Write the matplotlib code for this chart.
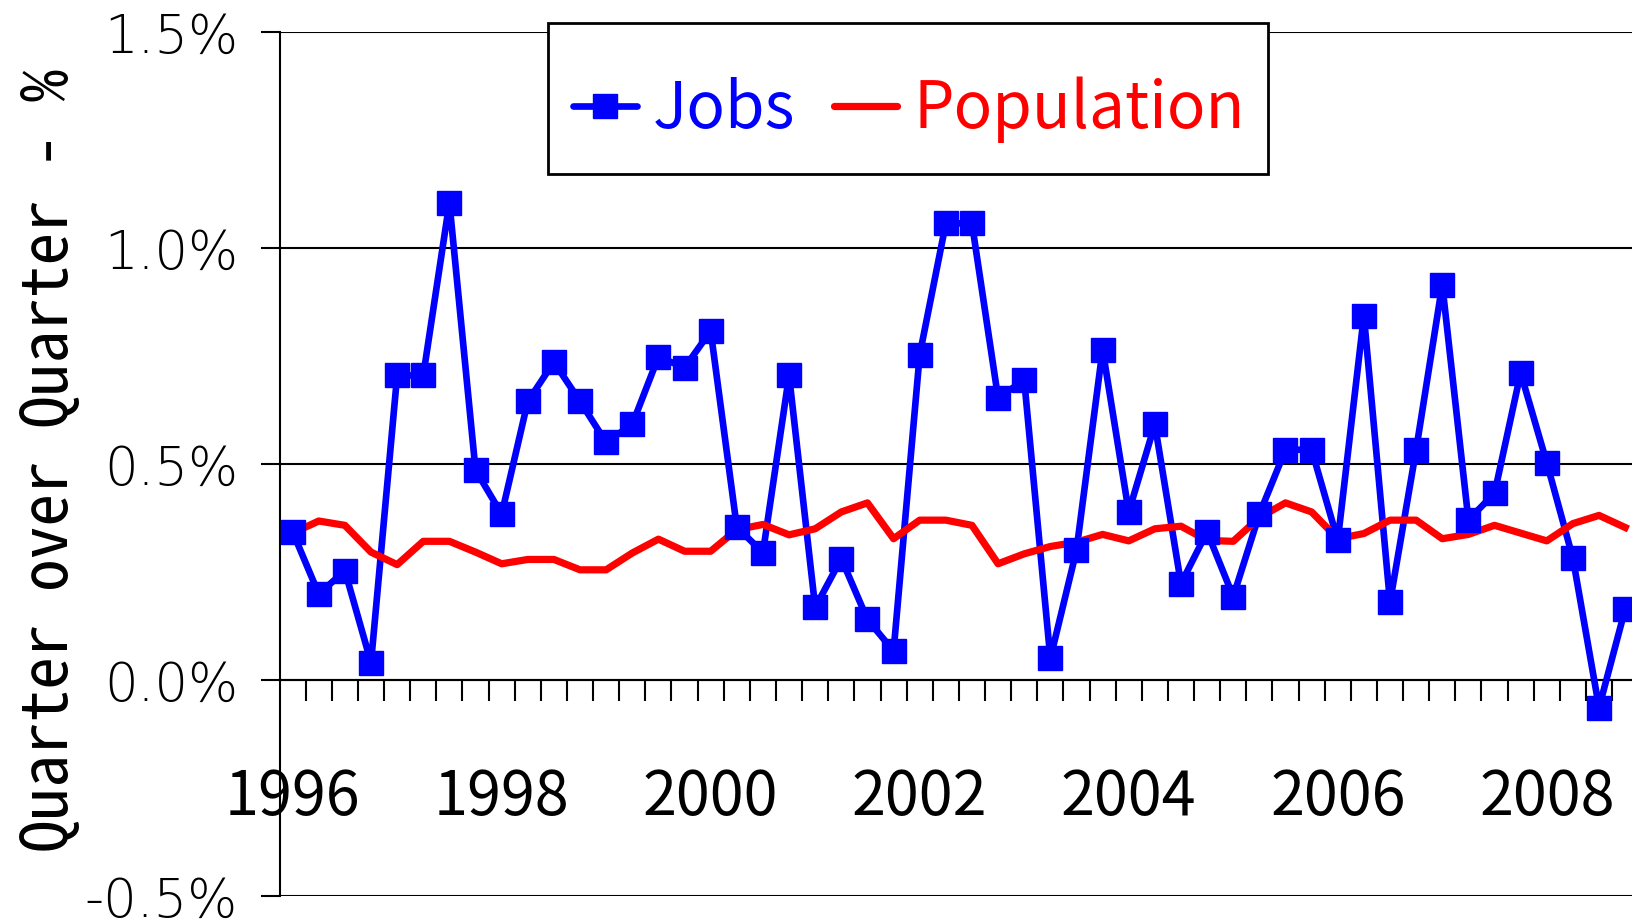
import numpy as np
import matplotlib
matplotlib.use("Agg")
import matplotlib.pyplot as plt
from matplotlib.lines import Line2D
from matplotlib.patches import Rectangle

# quarterly change, % (1996 Q1 .. 2008 Q4)
jobs = [0.343, 0.199, 0.253, 0.040, 0.705, 0.705, 1.105, 0.486, 0.384, 0.645,
        0.736, 0.645, 0.550, 0.592, 0.748, 0.723, 0.808, 0.354, 0.295, 0.705,
        0.168, 0.281, 0.140, 0.067, 0.753, 1.057, 1.057, 0.653, 0.694, 0.050,
        0.300, 0.765, 0.389, 0.592, 0.223, 0.343, 0.193, 0.384, 0.533, 0.533,
        0.323, 0.843, 0.180, 0.533, 0.915, 0.371, 0.432, 0.711, 0.503, 0.282,
        -0.064, 0.164]
population = [0.340, 0.368, 0.358, 0.296, 0.267, 0.321, 0.321, 0.296, 0.269, 0.279,
              0.279, 0.255, 0.255, 0.294, 0.326, 0.298, 0.298, 0.348, 0.360, 0.336,
              0.350, 0.389, 0.410, 0.327, 0.370, 0.370, 0.358, 0.269, 0.292, 0.309,
              0.319, 0.337, 0.322, 0.350, 0.356, 0.323, 0.321, 0.376, 0.410, 0.389,
              0.327, 0.339, 0.370, 0.370, 0.327, 0.337, 0.358, 0.340, 0.322, 0.362,
              0.381, 0.353]
anos = ["1996", "1998", "2000", "2002", "2004", "2006", "2008"]
y_ticks = [-0.5, 0.0, 0.5, 1.0, 1.5]

plt.rcParams['font.family'] = ['Noto Sans CJK JP', 'DejaVu Sans']
fonte_mono = ['Noto Sans Mono CJK JP', 'DejaVu Sans Mono']

azul = "#0000FF"
vermelho = "#FF0000"

W, H = 1633, 923
fig = plt.figure(figsize=(W / 100, H / 100), dpi=100)
ax = fig.add_axes([0.1712, 0.0293, 0.832, 0.936])

x = np.arange(len(jobs))

ax.plot(x, jobs, color=azul, linewidth=4.8, zorder=3)
ax.plot(x, population, color=vermelho, linewidth=5.2, zorder=4)
ax.plot(x, jobs, linestyle="none", marker="s", markersize=17.5,
        color=azul, zorder=5)

ax.set_xlim(-0.5, len(jobs) - 0.5)
ax.set_ylim(-0.5, 1.5)

# eixo y
ax.set_yticks(y_ticks)
ax.set_yticklabels([f"{v:.1f}%" for v in y_ticks],
                   fontfamily="DejaVu Sans", fontweight=200)
ax.tick_params(axis="y", direction="out", length=14, width=1.5,
               labelsize=38, pad=16)
ax.yaxis.grid(True, color="black", linewidth=1.5)
ax.set_axisbelow(True)

# eixo x na linha do zero
ax.spines["top"].set_visible(False)
ax.spines["right"].set_visible(False)
ax.spines["bottom"].set_position(("data", 0))
ax.spines["bottom"].set_linewidth(1.5)
ax.spines["left"].set_linewidth(1.5)

ax.set_xticks(np.arange(0.5, len(jobs) - 1, 1))
ax.set_xticklabels([])
ax.tick_params(axis="x", which="major", direction="out", length=15, width=1.5)

ax.set_xticks(np.arange(0, len(jobs), 8), minor=True)
ax.set_xticklabels(anos, minor=True)
ax.tick_params(axis="x", which="minor", length=0, labelsize=44, pad=62)

fig.text(50 / W, 1 - 460 / H, "Quarter over Quarter - %",
         rotation=90, ha="center", va="center", fontsize=47,
         family=fonte_mono)

# legenda: caixa desenhada à parte
caixa = Rectangle((548 / W, 1 - 174 / H), 720 / W, 151 / H,
                  transform=fig.transFigure, facecolor="white",
                  edgecolor="black", linewidth=2, zorder=9, clip_on=False)
fig.patches.append(caixa)

handles = [
    Line2D([], [], color=azul, linewidth=4.8, marker="s", markersize=17.5,
           solid_capstyle="round"),
    Line2D([], [], color=vermelho, linewidth=5.2, solid_capstyle="round"),
]
leg = fig.legend(
    handles, ["Jobs", "Population"],
    loc="center left",
    bbox_to_anchor=(573 / W, 1 - 110 / H),
    ncol=2,
    fontsize=46,
    labelcolor="linecolor",
    frameon=False,
    borderaxespad=0,
    borderpad=0,
    handlelength=1.0,
    handletextpad=0.25,
    columnspacing=0.6,
)
leg.set_zorder(10)

fig.savefig("out.png", dpi=100)
